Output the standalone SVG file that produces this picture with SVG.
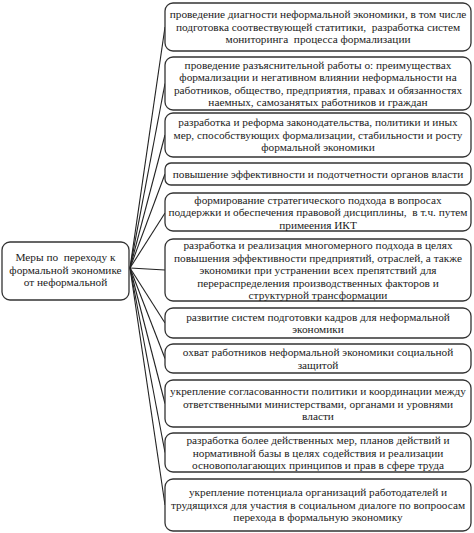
<svg xmlns="http://www.w3.org/2000/svg" width="474" height="533" viewBox="0 0 474 533">
<style>
rect.b{fill:#fff;stroke:#333;stroke-width:1.3}
text{font-family:"Liberation Serif","Times New Roman","DejaVu Serif",serif;font-size:11.3px;fill:#222;text-anchor:middle;white-space:pre}
.c line{stroke:#222;stroke-width:1.1}
</style>
<rect width="474" height="533" fill="#fff"/>
<g class="c" id="connectors">
<line x1="130" y1="268" x2="165" y2="27"/>
<line x1="130" y1="268" x2="165" y2="83.5"/>
<line x1="130" y1="268" x2="165" y2="135"/>
<line x1="130" y1="268" x2="165" y2="174"/>
<line x1="130" y1="268" x2="165" y2="213"/>
<line x1="130" y1="268" x2="165" y2="270"/>
<line x1="130" y1="268" x2="165" y2="323"/>
<line x1="130" y1="268" x2="165" y2="358.5"/>
<line x1="130" y1="268" x2="165" y2="403.5"/>
<line x1="130" y1="268" x2="165" y2="452.5"/>
<line x1="130" y1="268" x2="165" y2="505"/>
</g>
<g id="root">
<rect class="b" x="2" y="242" width="127" height="58" rx="8"/>
<text x="65.5" y="261">Меры по  переходу к</text>
<text x="65.5" y="273.5">формальной экономике</text>
<text x="65.5" y="286">от неформальной</text>
</g>
<g id="n1">
<rect class="b" x="165" y="3" width="306" height="48" rx="8"/>
<text x="318" y="18">проведение диагности неформальной экономики, в том числе</text>
<text x="318" y="30.5">подготовка соотвествующей статитики,  разработка систем</text>
<text x="318" y="43">мониторинга  процесса формализации</text>
</g>
<g id="n2">
<rect class="b" x="165" y="57" width="306" height="53" rx="8"/>
<text x="318" y="68.5">проведение разъяснительной работы о: преимуществах</text>
<text x="318" y="81">формализации и негативном влиянии неформальности на</text>
<text x="318" y="93.5">работников, общество, предприятия, правах и обязанностях</text>
<text x="318" y="106">наемных, самозанятых работников и граждан</text>
</g>
<g id="n3">
<rect class="b" x="165" y="113" width="306" height="44" rx="8"/>
<text x="318" y="126">разработка и реформа законодательства, политики и иных</text>
<text x="318" y="138.5">мер, способствующих формализации, стабильности и росту</text>
<text x="318" y="151">формальной экономики</text>
</g>
<g id="n4">
<rect class="b" x="165" y="163" width="306" height="22" rx="6"/>
<text x="318" y="177.5">повышение эффективности и подотчетности органов власти</text>
</g>
<g id="n5">
<rect class="b" x="165" y="193" width="306" height="38" rx="8"/>
<text x="318" y="203.5">формирование стратегического подхода в вопросах</text>
<text x="318" y="216">поддержки и обеспечения правовой дисциплины,  в т.ч. путем</text>
<text x="318" y="228.5">примеения ИКТ</text>
</g>
<g id="n6">
<rect class="b" x="165" y="239" width="306" height="62" rx="8"/>
<text x="318" y="249">разработка и реализация многомерного подхода в целях</text>
<text x="318" y="261.5">повышения эффективности предприятий, отраслей, а также</text>
<text x="318" y="274">экономики при устранении всех препятствий для</text>
<text x="318" y="286.5">перераспределения производственных факторов и</text>
<text x="318" y="299">структурной трансформации</text>
</g>
<g id="n7">
<rect class="b" x="165" y="308" width="306" height="30" rx="8"/>
<text x="318" y="320.5">развитие систем подготовки кадров для неформальной</text>
<text x="318" y="333">экономики</text>
</g>
<g id="n8">
<rect class="b" x="165" y="344" width="306" height="29" rx="8"/>
<text x="318" y="356">охват работников неформальной экономики социальной</text>
<text x="318" y="368.5">защитой</text>
</g>
<g id="n9">
<rect class="b" x="165" y="380" width="306" height="47" rx="8"/>
<text x="318" y="395">укрепление согласованности политики и координации между</text>
<text x="318" y="407.5">ответственными министерствами, органами и уровнями</text>
<text x="318" y="420">власти</text>
</g>
<g id="n10">
<rect class="b" x="165" y="433" width="306" height="39" rx="8"/>
<text x="318" y="444">разработка более действенных мер, планов действий и</text>
<text x="318" y="456.5">нормативной базы в целях содействия и реализации</text>
<text x="318" y="469">основополагающих принципов и прав в сфере труда</text>
</g>
<g id="n11">
<rect class="b" x="165" y="479" width="306" height="52" rx="8"/>
<text x="318" y="496">укрепление потенциала организаций работодателей и</text>
<text x="318" y="508.5">трудящихся для участия в социальном диалоге по вопроосам</text>
<text x="318" y="521">перехода в формальную экономику</text>
</g>
</svg>
